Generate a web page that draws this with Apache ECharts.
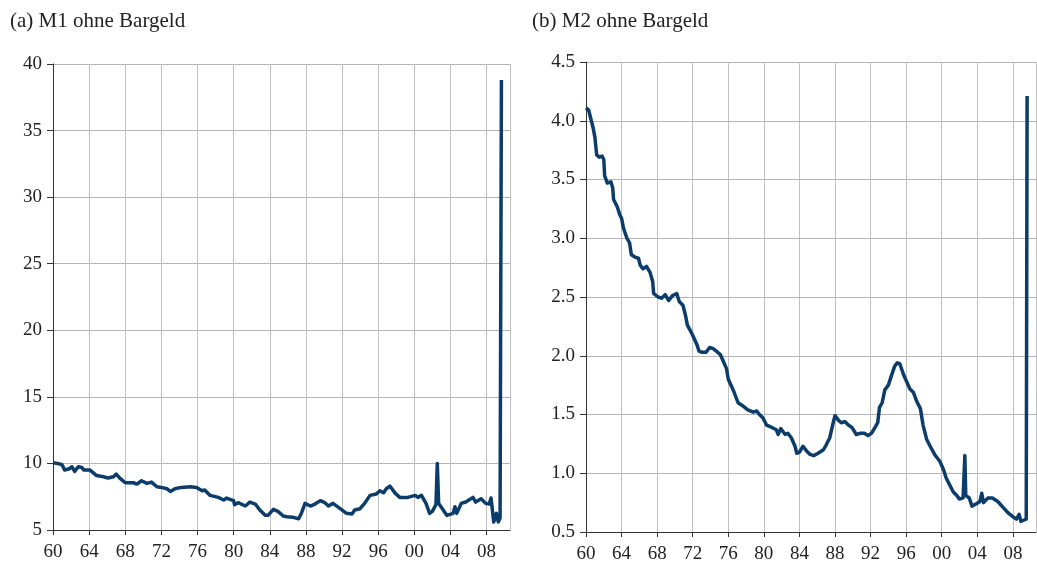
<!DOCTYPE html>
<html>
<head>
<meta charset="utf-8">
<title>M1 / M2 ohne Bargeld</title>
<script src="https://cdn.jsdelivr.net/npm/echarts@6/dist/echarts.min.js"></script>
<style>
    html, body { margin: 0; padding: 0; background: #fff; }
    #chart { width: 1037px; height: 569px; }
</style>
</head>
<body>
<div id="chart"></div>
<script>
    // (a) M1 ohne Bargeld
    const m1Years = [1960.0, 1960.5, 1961.0, 1961.3, 1961.8, 1962.1, 1962.4, 1962.8, 1963.2, 1963.4,
        1964.1, 1964.8, 1965.6, 1966.1, 1966.7, 1967.0, 1967.4, 1968.0, 1968.9, 1969.3,
        1969.8, 1970.4, 1970.9, 1971.5, 1972.0, 1972.6, 1973.0, 1973.5, 1974.2, 1975.2,
        1975.9, 1976.5, 1976.8, 1977.4, 1978.3, 1978.9, 1979.2, 1980.0, 1980.1, 1980.5,
        1981.3, 1981.8, 1982.4, 1982.9, 1983.5, 1983.8, 1984.4, 1984.9, 1985.5, 1985.9,
        1986.6, 1987.2, 1987.5, 1987.9, 1988.5, 1989.0, 1989.6, 1990.1, 1990.5, 1991.0,
        1991.8, 1992.5, 1993.1, 1993.4, 1994.0, 1994.5, 1995.1, 1995.8, 1996.2, 1996.6,
        1996.9, 1997.3, 1997.9, 1998.4, 1999.3, 2000.1, 2000.4, 2000.8, 2001.3, 2001.7,
        2002.0, 2002.4, 2002.55, 2002.7, 2002.9, 2003.6, 2004.3, 2004.5, 2004.7, 2005.2,
        2005.7, 2006.5, 2006.8, 2007.4, 2007.9, 2008.3, 2008.5, 2008.8, 2009.1, 2009.3,
        2009.5, 2009.65]
    const m1Values = [10.05, 10.0, 9.9, 9.5, 9.6, 9.75, 9.4, 9.75, 9.7, 9.5,
        9.5, 9.1, 9.0, 8.9, 9.0, 9.2, 8.9, 8.55, 8.55, 8.45,
        8.7, 8.5, 8.6, 8.25, 8.2, 8.1, 7.9, 8.1, 8.2, 8.25,
        8.2, 7.95, 8.0, 7.6, 7.45, 7.25, 7.4, 7.2, 6.9, 7.05,
        6.8, 7.1, 6.95, 6.5, 6.1, 6.1, 6.55, 6.4, 6.05, 6.0,
        5.95, 5.85, 6.25, 7.0, 6.8, 6.95, 7.2, 7.05, 6.8, 7.0,
        6.6, 6.25, 6.2, 6.5, 6.6, 7.0, 7.6, 7.7, 7.95, 7.8,
        8.1, 8.3, 7.75, 7.45, 7.45, 7.6, 7.45, 7.6, 7.0, 6.25,
        6.4, 6.9, 10.0, 7.0, 6.95, 6.1, 6.25, 6.75, 6.25, 7.0,
        7.1, 7.45, 7.1, 7.35, 7.0, 6.95, 7.4, 5.6, 6.25, 5.6,
        5.9, 38.8]

    // (b) M2 ohne Bargeld
    const m2Years = [1960.0, 1960.3, 1960.5, 1960.8, 1961.0, 1961.2, 1961.5, 1961.8, 1962.0, 1962.1,
        1962.4, 1962.8, 1963.0, 1963.1, 1963.5, 1963.8, 1964.0, 1964.2, 1964.6, 1964.9,
        1965.1, 1965.5, 1965.9, 1966.1, 1966.4, 1966.8, 1967.0, 1967.2, 1967.5, 1967.6,
        1968.1, 1968.5, 1968.9, 1969.3, 1969.7, 1970.2, 1970.5, 1970.9, 1971.2, 1971.4,
        1971.9, 1972.2, 1972.5, 1972.7, 1973.0, 1973.5, 1973.9, 1974.3, 1974.8, 1975.1,
        1975.4, 1975.8, 1976.0, 1976.6, 1977.1, 1977.7, 1978.2, 1978.8, 1979.2, 1979.5,
        1979.9, 1980.3, 1980.9, 1981.4, 1981.6, 1981.9, 1982.4, 1982.7, 1983.1, 1983.5,
        1983.7, 1984.0, 1984.4, 1984.8, 1985.2, 1985.6, 1986.1, 1986.7, 1987.0, 1987.4,
        1987.8, 1988.0, 1988.4, 1988.7, 1989.1, 1989.5, 1989.9, 1990.4, 1990.8, 1991.3,
        1991.7, 1992.1, 1992.5, 1992.8, 1993.0, 1993.3, 1993.6, 1994.0, 1994.3, 1994.7,
        1995.0, 1995.3, 1995.7, 1996.0, 1996.4, 1996.8, 1997.2, 1997.6, 1997.9, 1998.3,
        1998.7, 1999.2, 1999.8, 2000.2, 2000.5, 2000.9, 2001.3, 2001.7, 2002.0, 2002.4,
        2002.6, 2002.7, 2003.1, 2003.4, 2003.9, 2004.3, 2004.5, 2004.7, 2005.2, 2005.7,
        2006.3, 2006.9, 2007.5, 2008.0, 2008.4, 2008.7, 2008.9, 2009.2, 2009.5, 2009.6]
    const m2Values = [4.11, 4.09, 4.03, 3.94, 3.86, 3.71, 3.69, 3.70, 3.67, 3.53,
        3.47, 3.48, 3.43, 3.33, 3.27, 3.20, 3.17, 3.09, 3.00, 2.96,
        2.86, 2.84, 2.83, 2.77, 2.74, 2.76, 2.77, 2.71, 2.63, 2.53,
        2.50, 2.49, 2.52, 2.47, 2.51, 2.53, 2.46, 2.43, 2.34, 2.26,
        2.19, 2.14, 2.09, 2.04, 2.03, 2.03, 2.07, 2.06, 2.03, 2.01,
        1.96, 1.89, 1.80, 1.70, 1.60, 1.57, 1.54, 1.52, 1.53, 1.50,
        1.47, 1.41, 1.39, 1.37, 1.33, 1.38, 1.33, 1.34, 1.30, 1.23,
        1.17, 1.18, 1.23, 1.19, 1.16, 1.15, 1.17, 1.20, 1.24, 1.30,
        1.43, 1.49, 1.45, 1.43, 1.44, 1.41, 1.39, 1.33, 1.34, 1.34,
        1.32, 1.34, 1.39, 1.43, 1.56, 1.60, 1.71, 1.75, 1.82, 1.91,
        1.94, 1.93, 1.84, 1.79, 1.72, 1.69, 1.61, 1.55, 1.41, 1.29,
        1.23, 1.16, 1.10, 1.03, 0.96, 0.90, 0.84, 0.81, 0.78, 0.79,
        1.15, 0.81, 0.79, 0.72, 0.74, 0.76, 0.83, 0.75, 0.79, 0.79,
        0.76, 0.71, 0.66, 0.63, 0.61, 0.65, 0.59, 0.60, 0.61, 4.21]

    const yearTicks = ['60', '64', '68', '72', '76', '80', '84', '88', '92', '96', '00', '04', '08']

    const lineColor = '#0c3c69'
    const font = 'Liberation Serif, Times New Roman, serif'

    function pairs(xs, ys) {
        return xs.map((x, i) => [x, ys[i]])
    }

    function xAxisFor(gridIndex) {
        return {
            type: 'value',
            gridIndex,
            min: 1960,
            max: 2010.6,
            interval: 4,
            axisLine: { show: true, onZero: false, lineStyle: { color: '#333', width: 1 } },
            axisTick: { show: true, length: 5, lineStyle: { color: '#333' } },
            axisLabel: {
                showMaxLabel: false,
                margin: 13,
                fontFamily: font,
                fontSize: 19,
                color: '#222',
                formatter: v => yearTicks[Math.round((v - 1960) / 4)] || ''
            },
            splitLine: { show: true, lineStyle: { color: '#c0c0c0', width: 1 } }
        }
    }

    const chart = echarts.init(document.getElementById('chart'))

    chart.setOption({
        animation: false,
        title: [{
            text: '(a) M1 ohne Bargeld',
            left: 5,
            top: 6,
            textStyle: { fontFamily: font, fontSize: 21, fontWeight: 'normal', color: '#222' }
        }, {
            text: '(b) M2 ohne Bargeld',
            left: 527,
            top: 6,
            textStyle: { fontFamily: font, fontSize: 21, fontWeight: 'normal', color: '#222' }
        }],
        grid: [
            { left: 53, right: 527, top: 64, bottom: 39 },
            { left: 586, right: 1, top: 62, bottom: 37 }
        ],
        xAxis: [xAxisFor(0), xAxisFor(1)],
        yAxis: [{
            type: 'value',
            gridIndex: 0,
            min: 5,
            max: 40,
            interval: 5,
            axisLine: { show: true, lineStyle: { color: '#333', width: 1 } },
            axisTick: { show: true, length: 6, lineStyle: { color: '#333' } },
            axisLabel: { margin: 11, fontFamily: font, fontSize: 19, color: '#222' },
            splitLine: { lineStyle: { color: '#b4b4b4', width: 1 } }
        }, {
            type: 'value',
            gridIndex: 1,
            min: 0.5,
            max: 4.5,
            interval: 0.5,
            axisLine: { show: true, lineStyle: { color: '#333', width: 1 } },
            axisTick: { show: true, length: 6, lineStyle: { color: '#333' } },
            axisLabel: {
                margin: 11,
                fontFamily: font,
                fontSize: 19,
                color: '#222',
                formatter: v => v.toFixed(1)
            },
            splitLine: { lineStyle: { color: '#b4b4b4', width: 1 } }
        }],
        series: [{
            name: 'M1 ohne Bargeld',
            type: 'line',
            xAxisIndex: 0,
            yAxisIndex: 0,
            data: pairs(m1Years, m1Values),
            showSymbol: false,
            lineStyle: { color: lineColor, width: 3.5, join: 'round' }
        }, {
            name: 'M2 ohne Bargeld',
            type: 'line',
            xAxisIndex: 1,
            yAxisIndex: 1,
            data: pairs(m2Years, m2Values),
            showSymbol: false,
            lineStyle: { color: lineColor, width: 3.5, join: 'round' }
        }]
    })
</script>
</body>
</html>
